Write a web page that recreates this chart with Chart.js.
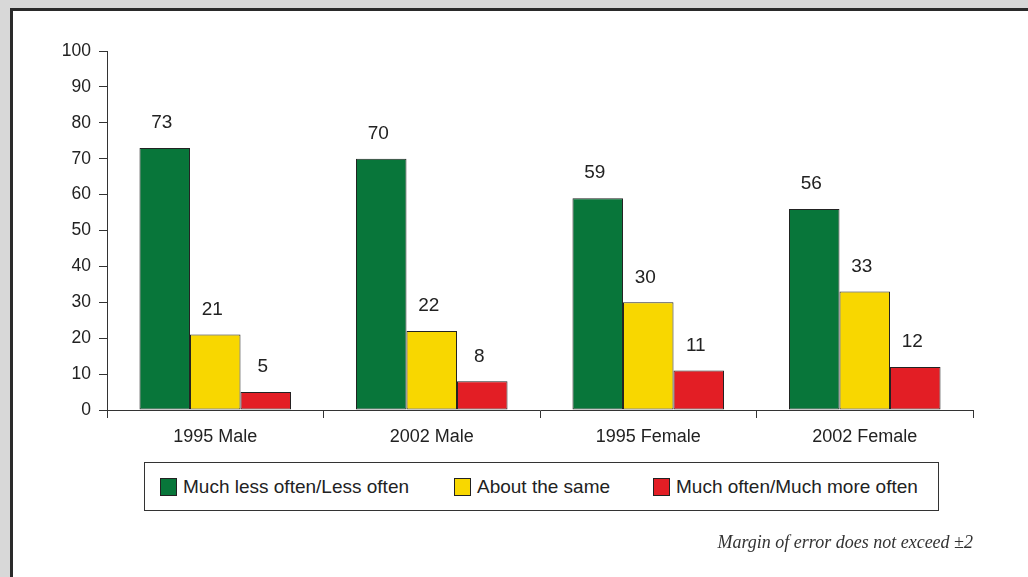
<!DOCTYPE html>
<html>
<head>
<meta charset="utf-8">
<script src="https://cdn.jsdelivr.net/npm/chart.js@4.4.0/dist/chart.umd.min.js"></script>
<style>
  html, body { margin:0; padding:0; }
  body { width:1028px; height:577px; background:#d8d8d8; position:relative; overflow:hidden;
         font-family:"Liberation Sans", Arial, sans-serif; color:#222; }
  #panel { position:absolute; left:10px; top:8px; width:1040px; height:600px;
           background:#fff; border:3px solid #2a2a2a; box-sizing:border-box; }
  #wrap { position:absolute; left:0; top:0; width:1028px; height:577px; }
  #legend { position:absolute; left:144px; top:462px; width:795px; height:49px;
            border:1px solid #333; box-sizing:border-box; background:#fff; }
  .li { position:absolute; top:0; height:47px; display:flex; align-items:center;
        font-size:19px; color:#222; white-space:nowrap; }
  .sw { width:17px; height:18px; border:1px solid #222; box-sizing:border-box; margin-right:6px; }
  #note { position:absolute; right:55px; top:532px; font-family:"Liberation Serif", serif;
          font-style:italic; font-size:18px; color:#333; }
</style>
</head>
<body>
<div id="panel"></div>
<div id="wrap"><canvas id="c" width="1028" height="577"></canvas></div>
<div id="legend"></div>
<div id="note">Margin of error does not exceed &plusmn;2</div>
<script>
/* Survey chart — frequency change by year and sex */

var categories = ['1995 Male', '2002 Male', '1995 Female', '2002 Female'];
var seriesNames = ['Much less often/Less often', 'About the same', 'Much often/Much more often'];
var lessOften = [73, 70, 59, 56];
var aboutSame = [21, 22, 30, 33];
var moreOften = [5, 8, 11, 12];
var yTicks = [0, 10, 20, 30, 40, 50, 60, 70, 80, 90, 100];

var COLORS = ['#08763a', '#f8d700', '#e31e25'];
var INK = '#222';
var FONT = '"Liberation Sans", Arial, sans-serif';

// value labels above each bar (sit a touch left of centre, like the original)
var barLabels = {
  id: 'barLabels',
  afterDatasetsDraw: function(chart){
    var ctx = chart.ctx;
    ctx.save();
    ctx.font = '19px ' + FONT;
    ctx.fillStyle = INK;
    ctx.textAlign = 'center';
    ctx.textBaseline = 'middle';
    chart.data.datasets.forEach(function(ds, i){
      chart.getDatasetMeta(i).data.forEach(function(bar, j){
        ctx.fillText(String(ds.data[j]), bar.x - 3, bar.y - 25);
      });
    });
    ctx.restore();
  }
};

var seriesData = [lessOften, aboutSame, moreOften];

new Chart(document.getElementById('c'), {
  type: 'bar',
  data: {
    labels: categories,
    datasets: seriesNames.map(function(name, i){
      return {
        label: name,
        data: seriesData[i],
        backgroundColor: COLORS[i],
        borderColor: '#222',
        borderWidth: 1,
        borderSkipped: false,
        categoryPercentage: 0.7,
        barPercentage: 1.0
      };
    })
  },
  options: {
    responsive: false,
    animation: false,
    layout: { padding: { left: 0, top: 51, right: 55, bottom: 0 } },
    plugins: { legend: { display: false }, tooltip: { enabled: false } },
    scales: {
      x: {
        afterFit: function(s){ s.height = 167; },
        grid: { display: true, drawOnChartArea: false, drawTicks: true, tickLength: 8, color: '#333', offset: true },
        border: { display: true, color: '#333', width: 1 },
        ticks: { color: INK, font: { family: FONT, size: 18 }, padding: 8 }
      },
      y: {
        min: 0, max: 100,
        afterFit: function(s){ s.width = 107; },
        afterBuildTicks: function(s){ s.ticks = yTicks.map(function(v){ return { value: v }; }); },
        grid: { display: true, drawOnChartArea: false, drawTicks: true, tickLength: 8, color: '#333' },
        border: { display: true, color: '#333', width: 1 },
        ticks: { color: INK, font: { family: FONT, size: 17.5 }, padding: 8 }
      }
    }
  },
  plugins: [barLabels]
});

// legend built from the series names
var legendPos = [15, 309, 508];
var lg = document.getElementById('legend');
seriesNames.forEach(function(name, i){
  var item = document.createElement('div');
  item.className = 'li';
  item.style.left = legendPos[i] + 'px';
  item.innerHTML = '<div class="sw" style="background:' + COLORS[i] + '"></div><span>' + name + '</span>';
  lg.appendChild(item);
});
</script>
</body>
</html>
